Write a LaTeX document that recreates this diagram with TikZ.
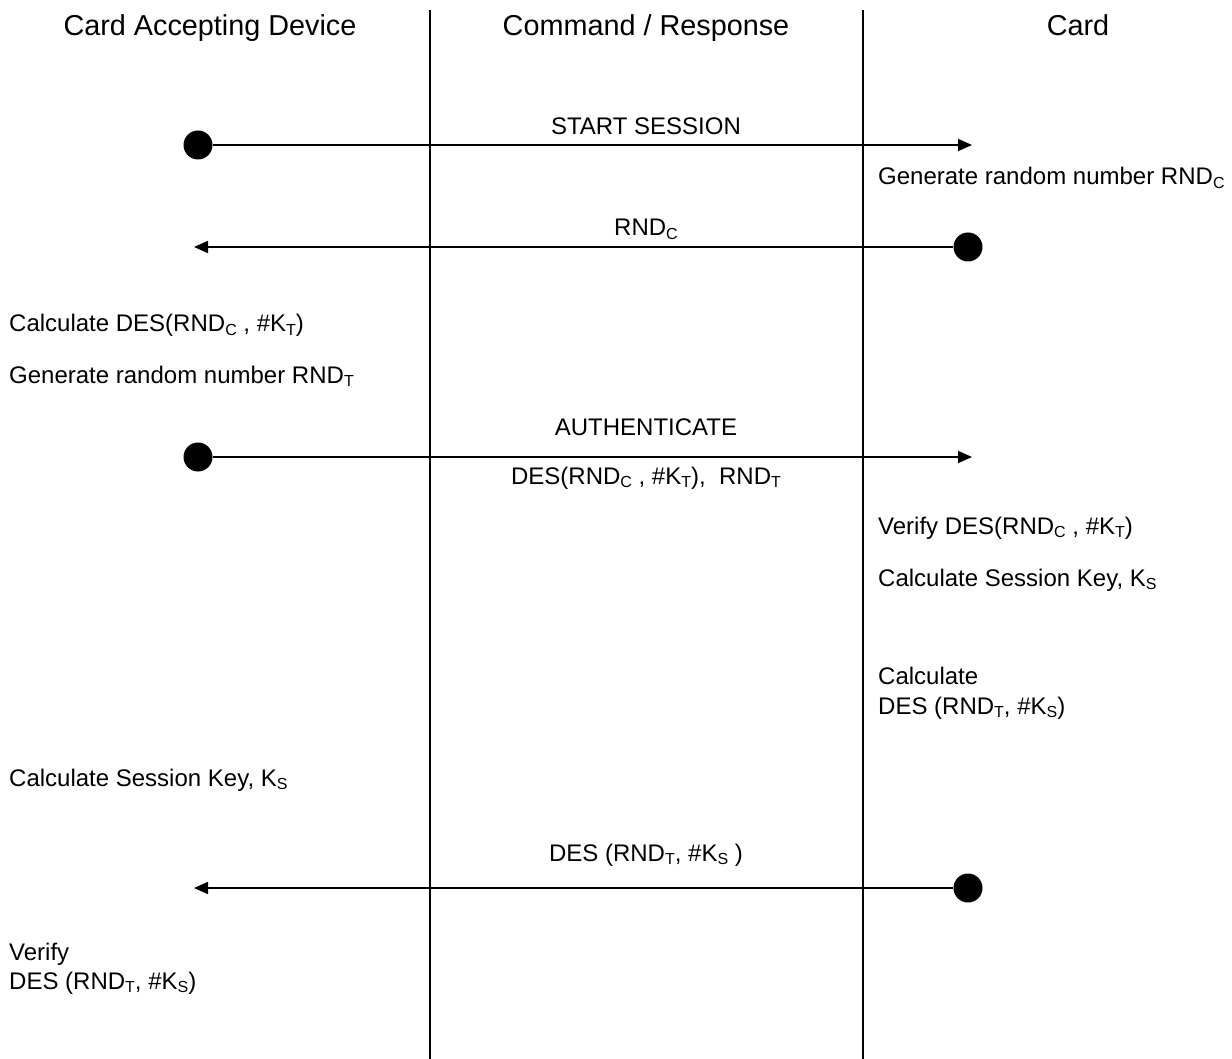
\documentclass[tikz,border=0pt]{standalone}
\usepackage{fontspec}
\setmainfont{Liberation Sans}
\usetikzlibrary{arrows.meta}
\newcommand\sbs[1]{\raisebox{-3.2pt}{\fontsize{16}{16}\selectfont #1}}
\tikzset{
  lifeline/.style={line width=1.6pt},
  msg/.style={line width=1.6pt,-{Triangle[length=14pt,width=12pt]}},
  dotnode/.style={circle,fill=black,inner sep=0pt,minimum size=29pt},
  head/.style={inner sep=0pt,anchor=base,font=\fontsize{28.8}{34}\selectfont},
  lbl/.style={inner sep=0pt,anchor=base,font=\fontsize{24}{30}\selectfont},
  txt/.style={inner sep=0pt,anchor=base west,font=\fontsize{24}{30}\selectfont},
}
\begin{document}
\begin{tikzpicture}[x=1pt,y=-1pt]
\useasboundingbox (0,0) rectangle (1232,1059);
% lifelines
\coordinate (l1t) at (430,10); \coordinate (l1b) at (430,1059);
\coordinate (l2t) at (863,10); \coordinate (l2b) at (863,1059);
\draw[lifeline] (l1t) -- (l1b);
\draw[lifeline] (l2t) -- (l2b);
% headers
\node[head] (h1) at (210,36) {Card Accepting Device};
\node[head] (h2) at (646,36) {Command / Response};
\node[head] (h3) at (1078,36) {Card};
% message 1
\node[dotnode] (d1) at (198,145) {};
\coordinate (e1) at (972,145);
\draw[msg] (d1) -- (e1);
\node[lbl] (m1) at (646,135) {START SESSION};
\node[txt] (t1) at (878,185) {Generate random number RND\sbs{C}};
% message 2
\node[dotnode] (d2) at (968,247) {};
\coordinate (e2) at (194,247);
\draw[msg] (d2) -- (e2);
\node[lbl] (m2) at (646,236) {RND\sbs{C}};
\node[txt] (t2) at (9,332) {Calculate DES(RND\sbs{C} , \#K\sbs{T})};
\node[txt] (t3) at (9,383) {Generate random number RND\sbs{T}};
% message 3
\node[dotnode] (d3) at (198,457) {};
\coordinate (e3) at (972,457);
\draw[msg] (d3) -- (e3);
\node[lbl] (m3) at (646,435) {AUTHENTICATE};
\node[lbl] (m3b) at (646,484) {DES(RND\sbs{C} , \#K\sbs{T}),\ \ RND\sbs{T}};
\node[txt] (t4) at (878,534) {Verify DES(RND\sbs{C} , \#K\sbs{T})};
\node[txt] (t5) at (878,586) {Calculate Session Key, K\sbs{S}};
\node[txt] (t6) at (878,684) {Calculate};
\node[txt] (t6b) at (878,714) {DES (RND\sbs{T}, \#K\sbs{S})};
\node[txt] (t7) at (9,786) {Calculate Session Key, K\sbs{S}};
% message 4
\node[dotnode] (d4) at (968,888) {};
\coordinate (e4) at (194,888);
\draw[msg] (d4) -- (e4);
\node[lbl] (m4) at (646,861) {DES (RND\sbs{T}, \#K\sbs{S} )};
\node[txt] (t8) at (9,960) {Verify};
\node[txt] (t8b) at (9,989) {DES (RND\sbs{T}, \#K\sbs{S})};
\end{tikzpicture}
\end{document}
